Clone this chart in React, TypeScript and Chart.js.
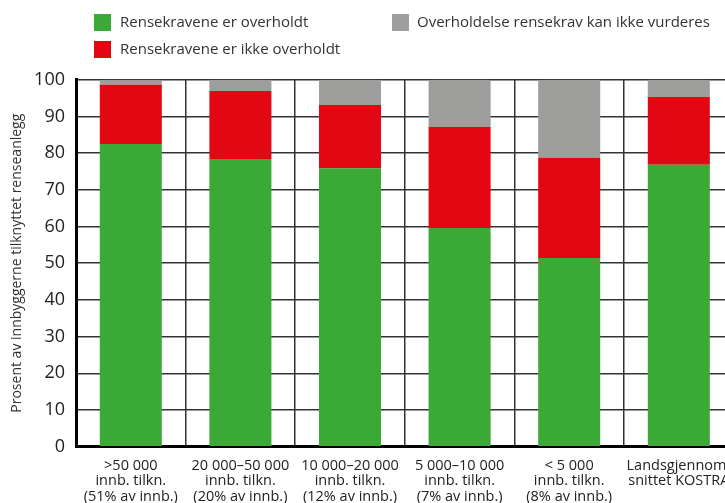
import React, { useEffect, useRef } from "react";
import { Chart, registerables } from "chart.js";

Chart.register(...registerables);

const categories: string[][] = [
  [">50 000", "innb. tilkn.", "(51% av innb.)"],
  ["20 000–50 000", "innb. tilkn.", "(20% av innb.)"],
  ["10 000–20 000", "innb. tilkn.", "(12% av innb.)"],
  ["5 000–10 000", "innb. tilkn.", "(7% av innb.)"],
  ["< 5 000", "innb. tilkn.", "(8% av innb.)"],
  ["Landsgjennom-", "snittet KOSTRA"],
];

const seriesNames = [
  "Rensekravene er overholdt",
  "Rensekravene er ikke overholdt",
  "Overholdelse rensekrav kan ikke vurderes",
];

const overholdt = [82.5, 78.4, 75.9, 59.6, 51.4, 76.8];
const ikkeOverholdt = [16.1, 18.5, 17.2, 27.5, 27.3, 18.5];
const kanIkkeVurderes = [1.4, 3.1, 6.9, 12.9, 21.3, 4.7];

const yTicks = [0, 10, 20, 30, 40, 50, 60, 70, 80, 90, 100];
const yTitle = "Prosent av innbyggerne tilknyttet renseanlegg";

const colors = ["#3BA935", "#E30613", "#9D9D9C"];
const FONT = "'Open Sans', sans-serif";

export default function App() {
  const ref = useRef<HTMLCanvasElement | null>(null);

  useEffect(() => {
    document.documentElement.style.overflow = "hidden";
    document.body.style.marginRight = "0px";
    document.body.style.marginBottom = "0px";
    if (!ref.current) return;
    const chart = new Chart(ref.current, {
      type: "bar",
      data: {
        labels: categories,
        datasets: [
          { label: seriesNames[0], data: overholdt, backgroundColor: colors[0] },
          { label: seriesNames[1], data: ikkeOverholdt, backgroundColor: colors[1] },
          { label: seriesNames[2], data: kanIkkeVurderes, backgroundColor: colors[2] },
        ],
      },
      options: {
        responsive: false,
        animation: false,
        layout: { padding: { top: 71.7, right: 14.4, left: 0, bottom: 0 } },
        plugins: { legend: { display: false }, tooltip: { enabled: false } },
        datasets: { bar: { categoryPercentage: 1, barPercentage: 0.566 } },
        scales: {
          x: {
            stacked: true,
            grid: { color: "#333", lineWidth: 1.5, drawTicks: false, offset: true },
            border: { color: "#000", width: 3 },
            ticks: {
              color: "#222",
              font: { family: FONT, size: 14.5, lineHeight: 1.07 },
              padding: 11,
              maxRotation: 0,
              autoSkip: false,
            },
            afterFit: (s: any) => {
              s.height = 56.3;
            },
          },
          y: {
            stacked: true,
            min: 0,
            max: 100,
            afterBuildTicks: (s: any) => {
              s.ticks = yTicks.map((v) => ({ value: v }));
            },
            grid: { color: "#333", lineWidth: 1.5, drawTicks: false },
            border: { color: "#000", width: 3 },
            ticks: {
              color: "#222",
              font: { family: FONT, size: 18 },
              padding: 11,
            },
            title: {
              display: true,
              text: yTitle,
              color: "#333",
              font: { family: FONT, size: 14 },
              padding: { top: 1, bottom: 0 },
            },
            afterFit: (s: any) => {
              s.width = 68;
            },
          },
        },
      },
    });
    return () => chart.destroy();
  }, []);

  const legendText: React.CSSProperties = {
    position: "absolute",
    fontFamily: FONT,
    fontSize: 15,
    color: "#333",
    whiteSpace: "nowrap",
    lineHeight: "17px",
  };
  const box = (c: string, left: number, top: number): React.CSSProperties => ({
    position: "absolute",
    left,
    top,
    width: 17,
    height: 17,
    background: c,
  });

  return (
    <div style={{ position: "relative", width: 717, height: 495, overflow: "hidden" }}>
      <canvas ref={ref} width={740} height={495} style={{ position: "absolute", left: 0, top: 0 }} />
      <div style={box(colors[0], 86, 6)} />
      <div style={{ ...legendText, left: 112, top: 5 }}>{seriesNames[0]}</div>
      <div style={box(colors[1], 86, 33)} />
      <div style={{ ...legendText, left: 112, top: 32 }}>{seriesNames[1]}</div>
      <div style={box(colors[2], 384, 6)} />
      <div style={{ ...legendText, left: 409, top: 5 }}>{seriesNames[2]}</div>
    </div>
  );
}
